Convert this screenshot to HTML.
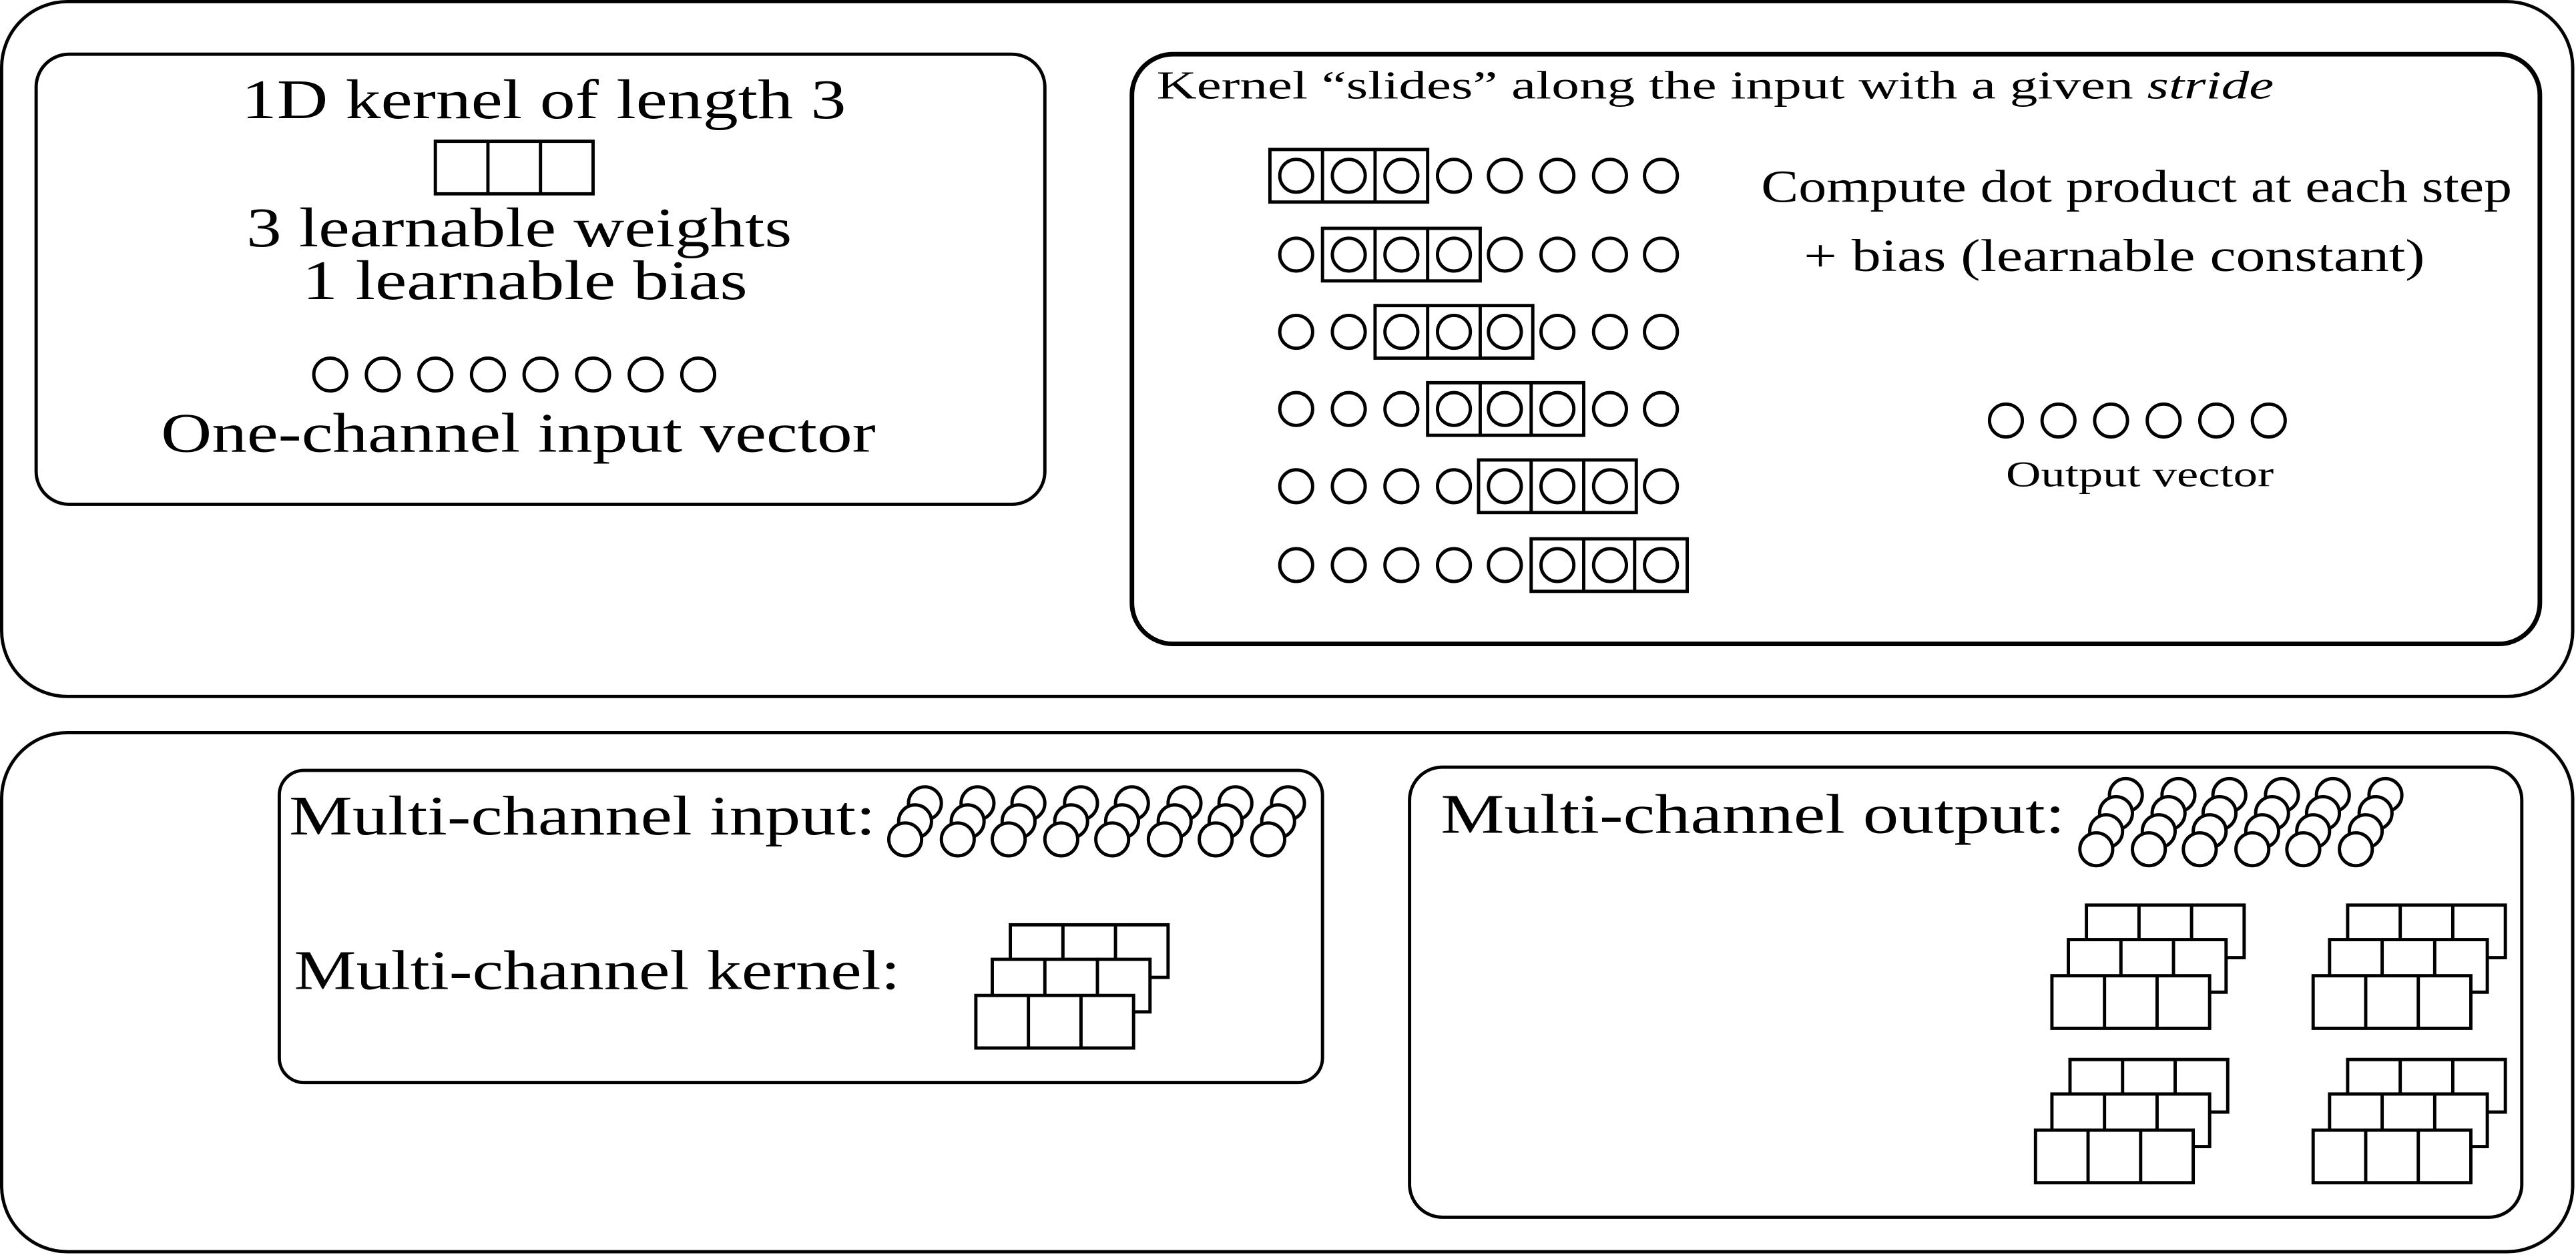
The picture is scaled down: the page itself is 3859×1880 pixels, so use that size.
<!DOCTYPE html>
<html><head><meta charset="utf-8"><style>
html,body{margin:0;padding:0;background:#fff;}
svg{display:block;}
text{font-family:"Liberation Serif",serif;fill:#000;}
</style></head><body>
<svg width="3859" height="1880" viewBox="0 0 1568 764" preserveAspectRatio="none" xmlns="http://www.w3.org/2000/svg">
<defs>
<g id="c"><circle r="10" fill="#fff" stroke="#000" stroke-width="2"/></g>
<g id="k3"><rect x="0" y="0" width="96" height="32" fill="#fff" stroke="#000" stroke-width="2"/><line x1="32" y1="0" x2="32" y2="32" stroke="#000" stroke-width="2"/><line x1="64" y1="0" x2="64" y2="32" stroke="#000" stroke-width="2"/></g>
<g id="stk"><use href="#k3" x="21" y="-43"/><use href="#k3" x="10" y="-22"/><use href="#k3" x="0" y="0"/></g>
</defs>
<g fill="none" stroke="#000" stroke-width="2">
<rect x="1" y="1" width="1565" height="423" rx="40"/>
<rect x="1" y="446" width="1565" height="316" rx="40"/>
<rect x="22" y="33" width="614" height="274" rx="20"/>
<rect x="689" y="33" width="857" height="359" rx="25" stroke-width="2.8"/>
<rect x="170" y="469" width="635" height="190" rx="15"/>
<rect x="858" y="467" width="677" height="274" rx="20"/>
</g>
<!-- Box A -->
<text x="147" y="72" font-size="34" textLength="368" lengthAdjust="spacingAndGlyphs">1D kernel of length 3</text>
<use href="#k3" x="265" y="86"/>
<text x="150" y="150" font-size="34" textLength="332" lengthAdjust="spacingAndGlyphs">3 learnable weights</text>
<text x="184" y="182" font-size="34" textLength="271" lengthAdjust="spacingAndGlyphs">1 learnable bias</text>
<g>
<use href="#c" x="201" y="228"/><use href="#c" x="233" y="228"/><use href="#c" x="265" y="228"/><use href="#c" x="297" y="228"/><use href="#c" x="329" y="228"/><use href="#c" x="361" y="228"/><use href="#c" x="393" y="228"/><use href="#c" x="425" y="228"/>
</g>
<text x="98" y="275" font-size="34" textLength="435" lengthAdjust="spacingAndGlyphs">One-channel input vector</text>
<!-- Box B -->
<text x="704" y="60" font-size="24" textLength="680" lengthAdjust="spacingAndGlyphs">Kernel “slides” along the input with a given <tspan font-style="italic">stride</tspan></text>
<text x="1072" y="123" font-size="28" textLength="457" lengthAdjust="spacingAndGlyphs">Compute dot product at each step</text>
<text x="1098" y="165" font-size="28" textLength="378" lengthAdjust="spacingAndGlyphs">+ bias (learnable constant)</text>
<use href="#c" x="1221" y="256"/><use href="#c" x="1253" y="256"/><use href="#c" x="1285" y="256"/><use href="#c" x="1317" y="256"/><use href="#c" x="1349" y="256"/><use href="#c" x="1381" y="256"/>
<text x="1221" y="296" font-size="22" textLength="163" lengthAdjust="spacingAndGlyphs">Output vector</text>
<g>
<use href="#c" x="789" y="107"/><use href="#c" x="821" y="107"/><use href="#c" x="853" y="107"/><use href="#c" x="885" y="107"/><use href="#c" x="916" y="107"/><use href="#c" x="948" y="107"/><use href="#c" x="980" y="107"/><use href="#c" x="1011" y="107"/>
<use href="#c" x="789" y="155"/><use href="#c" x="821" y="155"/><use href="#c" x="853" y="155"/><use href="#c" x="885" y="155"/><use href="#c" x="916" y="155"/><use href="#c" x="948" y="155"/><use href="#c" x="980" y="155"/><use href="#c" x="1011" y="155"/>
<use href="#c" x="789" y="202"/><use href="#c" x="821" y="202"/><use href="#c" x="853" y="202"/><use href="#c" x="885" y="202"/><use href="#c" x="916" y="202"/><use href="#c" x="948" y="202"/><use href="#c" x="980" y="202"/><use href="#c" x="1011" y="202"/>
<use href="#c" x="789" y="249"/><use href="#c" x="821" y="249"/><use href="#c" x="853" y="249"/><use href="#c" x="885" y="249"/><use href="#c" x="916" y="249"/><use href="#c" x="948" y="249"/><use href="#c" x="980" y="249"/><use href="#c" x="1011" y="249"/>
<use href="#c" x="789" y="296"/><use href="#c" x="821" y="296"/><use href="#c" x="853" y="296"/><use href="#c" x="885" y="296"/><use href="#c" x="916" y="296"/><use href="#c" x="948" y="296"/><use href="#c" x="980" y="296"/><use href="#c" x="1011" y="296"/>
<use href="#c" x="789" y="344"/><use href="#c" x="821" y="344"/><use href="#c" x="853" y="344"/><use href="#c" x="885" y="344"/><use href="#c" x="916" y="344"/><use href="#c" x="948" y="344"/><use href="#c" x="980" y="344"/><use href="#c" x="1011" y="344"/>
</g>
<g fill="none" stroke="#000" stroke-width="2">
<rect x="773" y="91" width="96" height="32"/><line x1="805" y1="91" x2="805" y2="123"/><line x1="837" y1="91" x2="837" y2="123"/>
<rect x="805" y="139" width="96" height="32"/><line x1="837" y1="139" x2="837" y2="171"/><line x1="869" y1="139" x2="869" y2="171"/>
<rect x="837" y="186" width="96" height="32"/><line x1="869" y1="186" x2="869" y2="218"/><line x1="901" y1="186" x2="901" y2="218"/>
<rect x="869" y="233" width="95" height="32"/><line x1="901" y1="233" x2="901" y2="265"/><line x1="932" y1="233" x2="932" y2="265"/>
<rect x="900" y="280" width="96" height="32"/><line x1="932" y1="280" x2="932" y2="312"/><line x1="964" y1="280" x2="964" y2="312"/>
<rect x="932" y="328" width="95" height="32"/><line x1="964" y1="328" x2="964" y2="360"/><line x1="995" y1="328" x2="995" y2="360"/>
</g>
<!-- Box C -->
<text x="176" y="508" font-size="34" textLength="357" lengthAdjust="spacingAndGlyphs">Multi-channel input:</text>
<g>
<use href="#c" x="563" y="489"/><use href="#c" x="595" y="489"/><use href="#c" x="626" y="489"/><use href="#c" x="658" y="489"/><use href="#c" x="689" y="489"/><use href="#c" x="721" y="489"/><use href="#c" x="752" y="489"/><use href="#c" x="784" y="489"/>
<use href="#c" x="557" y="500"/><use href="#c" x="589" y="500"/><use href="#c" x="620" y="500"/><use href="#c" x="652" y="500"/><use href="#c" x="683" y="500"/><use href="#c" x="715" y="500"/><use href="#c" x="746" y="500"/><use href="#c" x="778" y="500"/>
<use href="#c" x="551" y="511"/><use href="#c" x="583" y="511"/><use href="#c" x="614" y="511"/><use href="#c" x="646" y="511"/><use href="#c" x="677" y="511"/><use href="#c" x="709" y="511"/><use href="#c" x="740" y="511"/><use href="#c" x="772" y="511"/>
</g>
<text x="179" y="602" font-size="34" textLength="369" lengthAdjust="spacingAndGlyphs">Multi-channel kernel:</text>
<use href="#stk" x="594" y="606"/>
<!-- Box D -->
<text x="877" y="507" font-size="34" textLength="380" lengthAdjust="spacingAndGlyphs">Multi-channel output:</text>
<g>
<use href="#c" x="1294" y="484"/><use href="#c" x="1326" y="484"/><use href="#c" x="1357" y="484"/><use href="#c" x="1389" y="484"/><use href="#c" x="1420" y="484"/><use href="#c" x="1452" y="484"/>
<use href="#c" x="1288" y="495"/><use href="#c" x="1320" y="495"/><use href="#c" x="1351" y="495"/><use href="#c" x="1383" y="495"/><use href="#c" x="1414" y="495"/><use href="#c" x="1446" y="495"/>
<use href="#c" x="1282" y="506"/><use href="#c" x="1314" y="506"/><use href="#c" x="1345" y="506"/><use href="#c" x="1377" y="506"/><use href="#c" x="1408" y="506"/><use href="#c" x="1440" y="506"/>
<use href="#c" x="1276" y="517"/><use href="#c" x="1308" y="517"/><use href="#c" x="1339" y="517"/><use href="#c" x="1371" y="517"/><use href="#c" x="1402" y="517"/><use href="#c" x="1434" y="517"/>
</g>
<use href="#stk" x="1249" y="594"/>
<use href="#stk" x="1408" y="594"/>
<use href="#stk" x="1239" y="688"/>
<use href="#stk" x="1408" y="688"/>
</svg>
</body></html>
